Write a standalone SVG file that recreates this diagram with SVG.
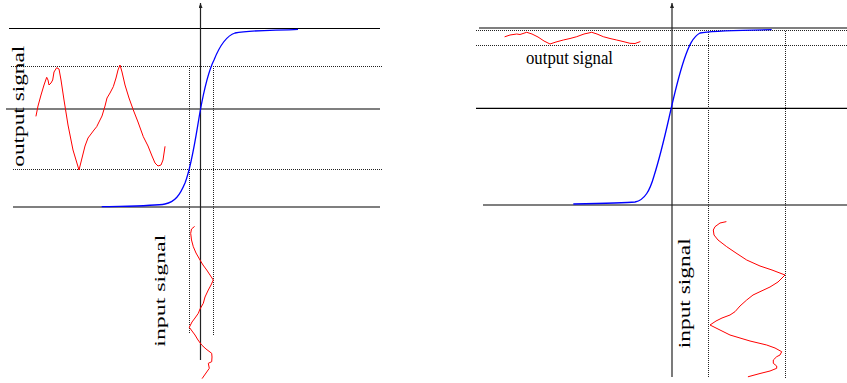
<svg xmlns="http://www.w3.org/2000/svg" width="847" height="383" viewBox="0 0 847 383">
<style>
.solid{stroke:#000;stroke-width:1.2;fill:none}
.axis{stroke:#222;stroke-width:1.2;fill:none}
.dot{stroke:#222;stroke-width:1;stroke-dasharray:1,1;fill:none;shape-rendering:crispEdges}
.blue{stroke:#0000ff;stroke-width:1.3;fill:none}
.red{stroke:#ff0000;stroke-width:1;fill:none;stroke-linejoin:round;stroke-linecap:round}
.lbl{font-family:"Liberation Serif","Times New Roman",serif;fill:#000}
</style>
<defs>
<marker id="arr" markerWidth="5" markerHeight="4" refX="5" refY="2" orient="auto" markerUnits="userSpaceOnUse" viewBox="0 0 5 4">
<path d="M0,0 L5,2 L0,4 Z" fill="#222"/>
</marker>
</defs>
<g id="left-panel">
<g id="left-grid">
<line class="solid" x1="9" y1="28.5" x2="380" y2="28.5"/>
<line class="dot" x1="11" y1="66.5" x2="383" y2="66.5"/>
<line class="solid" x1="6" y1="109" x2="380" y2="109"/>
<line class="dot" x1="13" y1="169.5" x2="383" y2="169.5"/>
<line class="solid" x1="13" y1="207" x2="380" y2="207"/>
<line class="dot" x1="189.5" y1="66" x2="189.5" y2="333"/>
<line class="dot" x1="213.5" y1="66" x2="213.5" y2="335"/>
</g>
<g id="left-axis">
<line class="axis" x1="200.5" y1="360" x2="200.5" y2="3" marker-end="url(#arr)"/>
</g>
<g id="left-transfer">
<path class="blue" d="M101.7,206.7 C130,206 155,206 165,204 C175,202 180,195 185,183 C192,165 196,135 200,112 C204,90 208,72 214,60 C220,45 226,36 235,33 C250,30 275,30.5 298,29.3"/>
</g>
<g id="left-output-signal">
<polyline class="red" points="36,116 38,106 41,95 44,85 46.7,77.3 48,80 49,85 51,83 52.7,80 54,72 56.7,67.7 59,69 61,80 64,100 68,125 71,140 73,150 76,160 79,170 82,158 85,146 88,138 91,134 94,130 96.7,126.7 99,122 102,116 105,106 107,98 110,93 113.3,86.7 116,78 118,70 120,65 122,72 125,85 129,98 133.3,110 138,122 143.3,136.7 148,146 152,156 155,163 158,166 161,165 163,160 165,146.7"/>
</g>
<g id="left-input-signal">
<polyline class="red" points="194.3,226.7 191.5,229 190.7,233.3 191.5,240 193.3,246.7 196,253 200,260 203,265 206.7,270 210,275 213.3,280 211,285 208.3,290 205,297 203.3,303.3 200,309 198.3,313.3 195,318 192,322 189.3,327.3 192,331 195,335 198,340 201.7,345 206,349 211.7,353.3 212,357 211.7,361.7 208.3,363.3 209.3,368.3 206,373 202.3,378.3"/>
</g>
<g id="left-labels">
<text class="lbl" font-size="16.5" transform="translate(23.8,166.7) rotate(-90)" textLength="121" lengthAdjust="spacingAndGlyphs">output signal</text>
<text class="lbl" font-size="15.5" transform="translate(165.1,346.7) rotate(-90)" textLength="112" lengthAdjust="spacingAndGlyphs">input signal</text>
</g>
</g>
<g id="right-panel">
<g id="right-grid">
<line class="solid" x1="479" y1="28" x2="847" y2="28"/>
<line class="dot" x1="476" y1="30.5" x2="847" y2="30.5"/>
<line class="dot" x1="476" y1="45.5" x2="847" y2="45.5"/>
<line class="solid" x1="476" y1="108.3" x2="847" y2="108.3"/>
<line class="solid" x1="483" y1="205" x2="847" y2="205"/>
<line class="dot" x1="708.5" y1="32" x2="708.5" y2="378"/>
<line class="dot" x1="785.5" y1="30.5" x2="785.5" y2="378"/>
</g>
<g id="right-axis">
<line class="axis" x1="672" y1="377" x2="672" y2="3" marker-end="url(#arr)"/>
</g>
<g id="right-transfer">
<path class="blue" d="M573.3,204 C600,203.5 625,203 635,202 C645,200 650,190 654,176 C659,160 664,140 669,118 C673,100 678,78 684,60 C689,45 693,37 700,33 C712,30.5 740,30.5 771.7,29.7"/>
</g>
<g id="right-output-signal">
<polyline class="red" points="505,36.7 510,35 516.7,34 520,34.5 526.7,32.3 532,34 538,37 544,41 550,44 556,42 563.3,40 570,38.5 576.7,36.7 584,34 591.7,32.3 597,34 603.3,36.7 610,38.5 616.7,40 623,41.5 630,43.3 635,43.5 640,41.7"/>
</g>
<g id="right-input-signal">
<polyline class="red" points="726,221.7 720,223 715,226.7 713.3,230 714,235 718,240 726.7,246.7 736,253 746.7,260 760,266 772,270 785,275 778,282 770,287 760,291.7 753,295 746.7,300 740,306 735,311.7 730,315 722,318 716,321 710,325 716,328 722,331 730,335 740,338 750,341 766.7,345 775,348 781.7,351.7 780,355 776.7,356.7 773.3,360 773.3,363.3 776.7,366 776.7,368.3 770,371 760,373.5 748.3,376.7"/>
</g>
<g id="right-labels">
<text class="lbl" font-size="18.4" x="526" y="64.3" textLength="87" lengthAdjust="spacingAndGlyphs">output signal</text>
<text class="lbl" font-size="16.5" transform="translate(689.6,348.3) rotate(-90)" textLength="110" lengthAdjust="spacingAndGlyphs">input signal</text>
</g>
</g>
</svg>
